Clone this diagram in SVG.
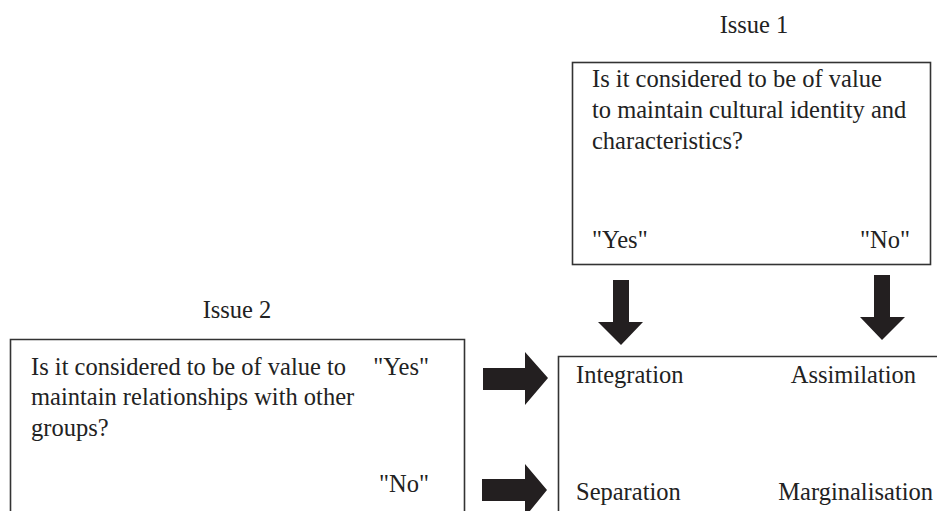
<svg xmlns="http://www.w3.org/2000/svg" width="937" height="511" viewBox="0 0 937 511">
<style>
text{font-size:24.5px;fill:#222}
.box{fill:none;stroke:#333;stroke-width:1.6}
.arr{fill:#231f20}
</style>
<rect x="0" y="0" width="937" height="511" fill="#fff"/>
<g font-family="Liberation Serif, Times New Roman, DejaVu Serif, serif">
<g id="issue1">
<text x="754" y="33" text-anchor="middle">Issue 1</text>
<rect class="box" x="572.5" y="62.5" width="358" height="202"/>
<text x="592" y="87">Is it considered to be of value</text>
<text x="592" y="118">to maintain cultural identity and</text>
<text x="592" y="149">characteristics?</text>
<text x="592" y="248">"Yes"</text>
<text x="910" y="248" text-anchor="end">"No"</text>
</g>
<g id="issue2">
<text x="237" y="318" text-anchor="middle">Issue 2</text>
<path class="box" d="M10.5 520 V339.5 H464.5 V520"/>
<text x="31" y="375">Is it considered to be of value to</text>
<text x="31" y="405">maintain relationships with other</text>
<text x="31" y="436">groups?</text>
<text x="429" y="375" text-anchor="end">"Yes"</text>
<text x="429" y="492" text-anchor="end">"No"</text>
</g>
<g id="outcomes">
<path class="box" d="M558.5 520 V356.5 H940"/>
<text x="576" y="383">Integration</text>
<text x="916" y="383" text-anchor="end">Assimilation</text>
<text x="576" y="500">Separation</text>
<text x="933" y="500" text-anchor="end">Marginalisation</text>
</g>
</g>
<g id="connectors">
<polygon class="arr" points="613,280 629,280 629,322 643,322 621,345 598,322 613,322"/>
<polygon class="arr" points="874,275 890,275 890,317 905,317 882,340 860,317 874,317"/>
<polygon class="arr" points="483,368 525,368 525,352 548,378 525,405 525,390 483,390"/>
<polygon class="arr" points="482,479 525,479 525,464 547,490 525,517 525,501 482,501"/>
</g>
</svg>
